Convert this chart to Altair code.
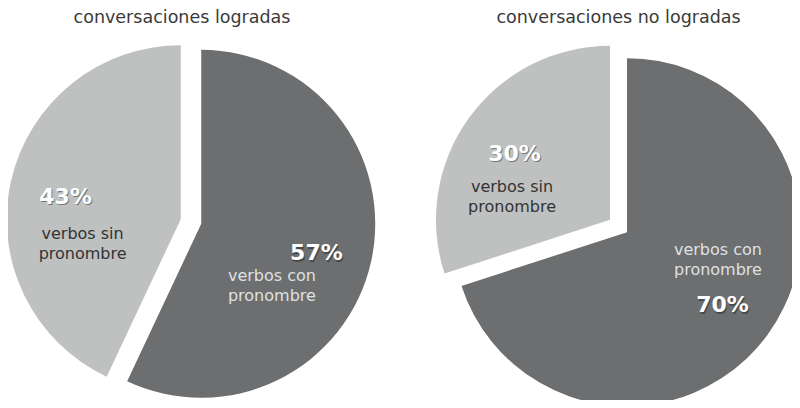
import math
import pandas as pd
import altair as alt

# ---- data ----
groups = ["conversaciones logradas", "conversaciones no logradas"]
categories = ["verbos con pronombre", "verbos sin pronombre"]
con_pronombre = [57, 70]
sin_pronombre = [43, 30]

# ---- layout (pixels, chart coordinates) ----
CENTERS = [(183.0, 213.5), (610.5, 218.0)]
RADIUS = 174
EXPLODE = 10.5
LABEL_R = 118
DESC_OFFSET = {
    (0, 0): (-44.5, 26.0),
    (0, 1): (17.0, 40.5),
    (1, 0): (-4.5, -52.0),
    (1, 1): (-2.5, 37.0),
}
TITLE_POS = [(174.0, 14.5), (610.5, 14.5)]

DARK = "#6c6e6f"
LIGHT = "#bec1c0"

rows = []
for gi, g in enumerate(groups):
    vals = [con_pronombre[gi], sin_pronombre[gi]]
    total = float(sum(vals))
    cum = 0.0
    cx, cy = CENTERS[gi]
    for ci, cat in enumerate(categories):
        v = vals[ci]
        start = cum / total * 2 * math.pi
        end = (cum + v) / total * 2 * math.pi
        cum += v
        mid = (start + end) / 2
        sx = cx + EXPLODE * math.sin(mid)
        sy = cy - EXPLODE * math.cos(mid)
        px = sx + LABEL_R * math.sin(mid)
        py = sy - LABEL_R * math.cos(mid)
        ddx, ddy = DESC_OFFSET[(gi, ci)]
        rows.append(dict(
            group=g, category=cat, pct=v, label=f"{v}%",
            desc="\n".join(cat.rsplit(" ", 1)),
            start=start, end=end, sx=sx, sy=sy, px=px, py=py,
            dx_=px + ddx, dy_=py + ddy,
        ))
df = pd.DataFrame(rows)

titles = pd.DataFrame({
    "title": groups,
    "tx": [p[0] for p in TITLE_POS],
    "ty": [p[1] for p in TITLE_POS],
})

base = alt.Chart(df)

arcs = base.mark_arc(radius=RADIUS, strokeWidth=0).encode(
    theta=alt.Theta("start:Q", scale=None),
    theta2="end:Q",
    x=alt.X("sx:Q", scale=None),
    y=alt.Y("sy:Q", scale=None),
    color=alt.Color("category:N",
                    scale=alt.Scale(domain=categories, range=[DARK, LIGHT]),
                    legend=None),
)

shadow = base.mark_text(font="DejaVu Sans", fontWeight="bold", fontSize=22,
                        align="center", baseline="middle", dx=1, dy=5,
                        color="#1e1e1e", opacity=0.45).encode(
    x=alt.X("px:Q", scale=None), y=alt.Y("py:Q", scale=None), text="label:N")

pct = base.mark_text(font="DejaVu Sans", fontWeight="bold", fontSize=22,
                     align="center", baseline="middle", dy=3.5,
                     color="white").encode(
    x=alt.X("px:Q", scale=None), y=alt.Y("py:Q", scale=None), text="label:N")

desc = base.mark_text(font="DejaVu Sans", fontSize=16, align="center",
                      baseline="middle", lineBreak="\n", lineHeight=20).encode(
    x=alt.X("dx_:Q", scale=None), y=alt.Y("dy_:Q", scale=None), text="desc:N",
    color=alt.condition(alt.datum.category == categories[0],
                        alt.value("#dfe1e2"), alt.value("#333333")),
)

title_layer = alt.Chart(titles).mark_text(
    font="DejaVu Sans", fontSize=17.5, align="center", baseline="alphabetic",
    color="#3a3a3a").encode(
    x=alt.X("tx:Q", scale=None), y=alt.Y("ty:Q", scale=None), text="title:N")

chart = alt.layer(arcs, shadow, pct, desc, title_layer).properties(
    width=784, height=392, padding=0, autosize="none", background="white"
).configure_view(strokeWidth=0)

chart.save("out.html", embed_options={"renderer": "svg", "actions": False})
